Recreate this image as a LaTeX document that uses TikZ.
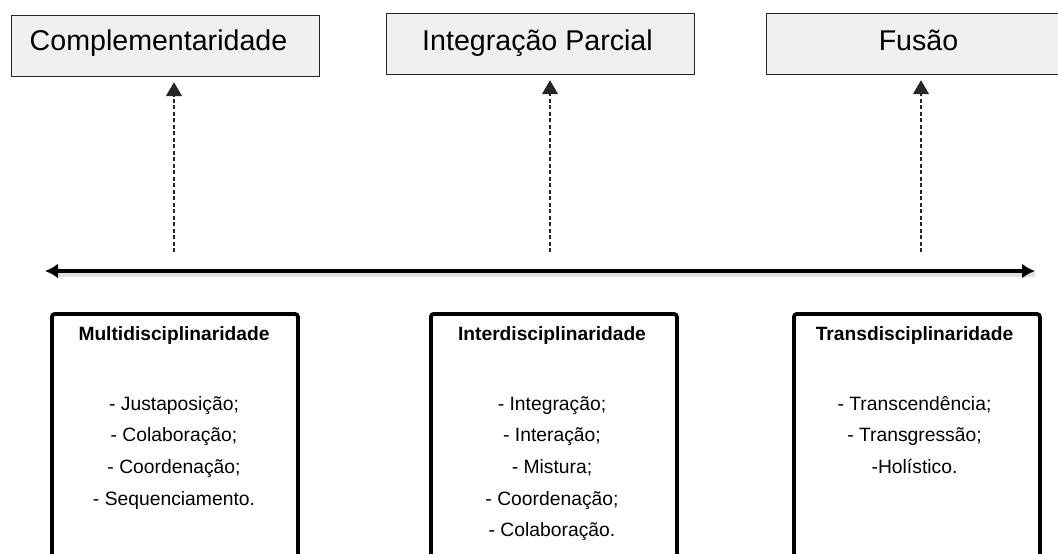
\documentclass[tikz,border=0pt]{standalone}
\usepackage{fontspec}
\setmainfont{Liberation Sans}
\usetikzlibrary{arrows.meta}
\begin{document}
\begin{tikzpicture}[x=1pt,y=-1pt,
  topbox/.style={draw=black!85,line width=1.2pt,fill=black!6,minimum width=308pt,minimum height=61pt,anchor=north west,inner sep=0pt},
  toptext/.style={font=\fontsize{28.6}{34}\selectfont,anchor=base,inner sep=0pt},
  catbox/.style={draw=black,line width=3.8pt,rounded corners=3pt,minimum width=246pt,minimum height=270pt,anchor=north west,inner sep=0pt},
  cattitle/.style={font=\fontsize{19.2}{23}\selectfont\bfseries,anchor=base,inner sep=0pt},
  item/.style={font=\fontsize{19.3}{23}\selectfont,anchor=base,inner sep=0pt},
  link/.style={draw=black!85,line width=1.1pt,dash pattern=on 4pt off 2.5pt,-{Triangle[length=14pt,width=16pt]},shorten >=5pt},
  axis/.style={draw=black,line width=3.6pt,{Latex[length=13pt,width=15pt]}-{Latex[length=13pt,width=15pt]}},
  axisshadow/.style={draw=black,opacity=0.12,line width=6pt}
]
\clip (0,0) rectangle (1058,554);
\fill[white] (0,0) rectangle (1058,554);

% top boxes
\node[topbox] (b1) at (11,15) {};
\node[topbox] (b2) at (386,13) {};
\node[topbox] (b3) at (766,13) {};
\node[toptext] (t1) at (158.5,50) {Complementaridade};
\node[toptext] (t2) at (537.5,50) {Integração Parcial};
\node[toptext] (t3) at (918.5,50) {Fusão};

% dashed arrows
\coordinate (d1) at (174,252);
\coordinate (d2) at (550,252);
\coordinate (d3) at (921,252);
\draw[link] (d1) -- (b1.south -| d1);
\draw[link] (d2) -- (b2.south -| d2);
\draw[link] (d3) -- (b3.south -| d3);

% main axis
\coordinate (L) at (45,271);
\coordinate (R) at (1035,271);
\draw[axisshadow] ([yshift=-3pt]L) ++(12,0) -- ([yshift=-3pt]R) ++(-12,0);
\draw[axis] (L) -- (R);

% bottom boxes
\node[catbox] (m) at (50,312) {};
\node[catbox] (i) at (429,312) {};
\node[catbox] (tr) at (792,312) {};

\node[cattitle] (m0) at (174,340) {Multidisciplinaridade};
\node[item] (m1) at (174,410) {- Justaposição;};
\node[item] (m2) at (174,441.7) {- Colaboração;};
\node[item] (m3) at (174,473.4) {- Coordenação;};
\node[item] (m4) at (174,505.1) {- Sequenciamento.};

\node[cattitle] (i0) at (552,340) {Interdisciplinaridade};
\node[item] (i1) at (552,410) {- Integração;};
\node[item] (i2) at (552,441.7) {- Interação;};
\node[item] (i3) at (552,473.4) {- Mistura;};
\node[item] (i4) at (552,505.1) {- Coordenação;};
\node[item] (i5) at (552,536.8) {- Colaboração.};

\node[cattitle] (tr0) at (914.5,340) {Transdisciplinaridade};
\node[item] (tr1) at (914.5,410) {- Transcendência;};
\node[item] (tr2) at (914.5,441.7) {- Transgressão;};
\node[item] (tr3) at (914.5,473.4) {-Holístico.};
\end{tikzpicture}
\end{document}
